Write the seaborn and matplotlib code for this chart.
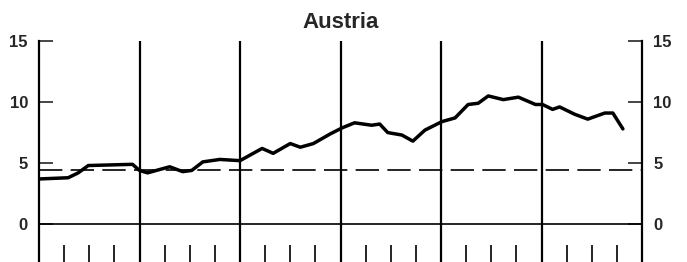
import numpy as np
import pandas as pd
import matplotlib
matplotlib.use("Agg")
import matplotlib.pyplot as plt
import seaborn as sns

# data (x = years from start of the period, y = rate in %)
years = [0.00, 0.29, 0.39, 0.49, 0.93, 1.00, 1.08, 1.30, 1.43, 1.52,
         1.63, 1.80, 2.00, 2.22, 2.33, 2.50, 2.60, 2.73, 2.90, 3.02,
         3.14, 3.31, 3.39, 3.47, 3.61, 3.72, 3.84, 4.01, 4.14, 4.27,
         4.37, 4.47, 4.62, 4.77, 4.94, 5.01, 5.11, 5.18, 5.33, 5.46,
         5.63, 5.71, 5.81]
rate = [3.7, 3.8, 4.2, 4.8, 4.9, 4.4, 4.2, 4.7, 4.3, 4.4,
        5.1, 5.3, 5.2, 6.2, 5.8, 6.6, 6.3, 6.6, 7.4, 7.9,
        8.3, 8.1, 8.2, 7.5, 7.3, 6.8, 7.7, 8.4, 8.7, 9.8,
        9.9, 10.5, 10.2, 10.4, 9.8, 9.8, 9.4, 9.6, 9.0, 8.6,
        9.1, 9.1, 7.8]
average_level = 4.4
year_bounds = [1, 2, 3, 4, 5]
quarter_ticks = [k + q for k in range(6) for q in (0.25, 0.5, 0.75)]
y_ticks = [0, 5, 10, 15]

df = pd.DataFrame({"year": years, "rate": rate})

sns.set_style("white")
plt.rcParams["font.family"] = ["Liberation Sans", "DejaVu Sans"]

fig = plt.figure(figsize=(6.87, 2.62), dpi=100)
ax = fig.add_axes([39 / 687, 0.0, (642 - 39) / 687, 221 / 262])

# 年の区切り線
ax.vlines(year_bounds, -3.1, 15.1, color="black", linewidth=1.6)
# 四半期の目盛
ax.vlines(quarter_ticks, -3.1, -1.7, color="black", linewidth=1.2)

ax.axhline(0, color="black", linewidth=1.2)
ax.axhline(average_level, color="black", linewidth=1.2, linestyle=(0, (14, 5)))

sns.lineplot(data=df, x="year", y="rate", color="black", linewidth=2.5, ax=ax)

ax.set_xlim(0, 6)
ax.set_ylim(-3.1, 15)
ax.set_xticks([])
ax.set_yticks(y_ticks)
ax.set_yticklabels([str(t) for t in y_ticks], fontsize=12, fontweight="bold")
ax.tick_params(axis="y", direction="in", length=10, width=1.2, pad=8,
               left=True, right=True, labelleft=True, labelright=True)
ax.set_xlabel("")
ax.set_ylabel("")

for side in ["top", "bottom"]:
    ax.spines[side].set_visible(False)
for side in ["left", "right"]:
    ax.spines[side].set_linewidth(1.6)
    ax.spines[side].set_color("black")

ax.set_title("Austria", fontsize=16, fontweight="bold", pad=9)

fig.savefig("out.png", dpi=100)
